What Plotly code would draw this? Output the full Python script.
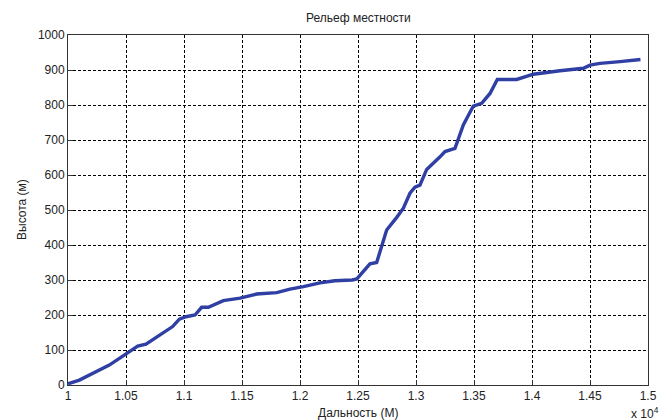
import plotly.graph_objects as go

# Distance (m) and elevation (m)
distance = [10000, 10006, 10098, 10184, 10270, 10356, 10443, 10529, 10601, 10672,
            10744, 10816, 10902, 10960, 11017, 11095, 11152, 11210, 11339, 11483,
            11626, 11799, 11914, 12029, 12172, 12300, 12450, 12490, 12560, 12603,
            12661, 12704, 12747, 12834, 12891, 12948, 12991, 13034, 13092, 13207,
            13250, 13336, 13408, 13494, 13566, 13638, 13701, 13868, 14012, 14241,
            14443, 14500, 14586, 14759, 14935]
elevation = [2, 4, 14, 29, 43, 57, 76, 95, 111, 117,
             133, 148, 167, 188, 195, 200, 222, 222, 241, 248,
             260, 264, 274, 281, 292, 298, 300, 303, 329, 346,
             350, 395, 443, 479, 505, 548, 565, 571, 616, 652,
             667, 676, 743, 797, 805, 833, 873, 873, 888, 898,
             905, 914, 919, 924, 930]

x_tickvals = [10000, 10500, 11000, 11500, 12000, 12500, 13000, 13500, 14000, 14500, 15000]
x_ticktext = ["1", "1.05", "1.1", "1.15", "1.2", "1.25", "1.3", "1.35", "1.4", "1.45", "1.5"]
y_tickvals = [0, 100, 200, 300, 400, 500, 600, 700, 800, 900, 1000]

title_text = "Рельеф местности"
x_label = "Дальность (М)"
y_label = "Высота (м)"

FONT = "Liberation Sans, Arial, sans-serif"
TXT = "#222222"

fig = go.Figure()
fig.add_trace(go.Scatter(
    x=distance, y=elevation, mode="lines",
    line=dict(color="#2F3FA3", width=3.4),
    hoverinfo="skip", showlegend=False,
))

axis_common = dict(
    showline=True, linecolor="#333333", linewidth=1, mirror=True,
    showgrid=True, gridcolor="#000000", gridwidth=1, griddash="3px,2px",
    ticks="inside", ticklen=5, tickcolor="#333333",
    zeroline=False, automargin=False,
    tickfont=dict(family=FONT, size=12, color=TXT),
)

fig.update_xaxes(range=[10000, 15000], tickmode="array",
                 tickvals=x_tickvals, ticktext=x_ticktext, **axis_common)
fig.update_yaxes(range=[0, 1000], tickmode="array",
                 tickvals=y_tickvals, **axis_common)

fig.update_layout(
    width=667, height=420,
    margin=dict(l=68, r=19, t=35, b=35),
    paper_bgcolor="white", plot_bgcolor="white",
    font=dict(family=FONT, size=12, color=TXT),
    annotations=[
        dict(text=title_text, x=0.5, xref="paper", y=1, yref="paper",
             xanchor="center", yanchor="middle", yshift=17, showarrow=False,
             font=dict(family=FONT, size=12, color=TXT)),
        dict(text=x_label, x=0.5, xref="paper", y=0, yref="paper",
             xanchor="center", yanchor="middle", yshift=-28, showarrow=False,
             font=dict(family=FONT, size=12, color=TXT)),
        dict(text=y_label, x=0, xref="paper", y=0.5, yref="paper",
             xanchor="center", yanchor="middle", xshift=-46, textangle=-90,
             showarrow=False, font=dict(family=FONT, size=12, color=TXT)),
        dict(text="x 10<sup>4</sup>", x=1, xref="paper", y=0, yref="paper",
             xanchor="right", yanchor="middle", xshift=13, yshift=-28,
             showarrow=False, font=dict(family=FONT, size=12, color=TXT)),
    ],
)

fig.write_html("out.html")
